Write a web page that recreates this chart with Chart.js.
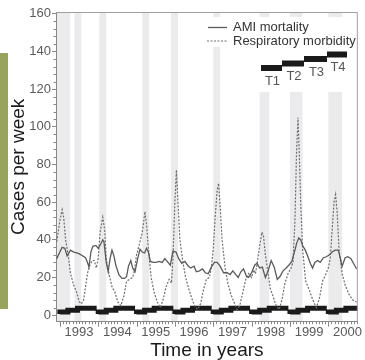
<!DOCTYPE html>
<html>
<head>
<meta charset="utf-8">
<script src="https://cdn.jsdelivr.net/npm/chart.js"></script>
<style>
  html, body { margin: 0; padding: 0; background: #fff; }
  #wrap { position: relative; width: 365px; height: 360px; }
  #tab { position: absolute; left: 0; top: 53px; width: 8px; height: 256px; background: #98a45c; }
</style>
</head>
<body>
<div id="wrap">
  <canvas id="chart" width="365" height="360"></canvas>
  <div id="tab"></div>
</div>
<script>
// AMI mortality, cases per week (time in decimal years)
const amiYears = [1992.92, 1993.00, 1993.06, 1993.13, 1993.19, 1993.28, 1993.36, 1993.44, 1993.51, 1993.59,
  1993.67, 1993.72, 1993.76, 1993.81, 1993.86, 1993.94, 1994.00, 1994.06, 1994.12, 1994.15,
  1994.21, 1994.26, 1994.31, 1994.36, 1994.41, 1994.46, 1994.54, 1994.62, 1994.69, 1994.74,
  1994.79, 1994.85, 1994.90, 1994.96, 1995.03, 1995.09, 1995.15, 1995.21, 1995.26, 1995.31,
  1995.36, 1995.44, 1995.51, 1995.59, 1995.67, 1995.74, 1995.82, 1995.88, 1995.95, 1996.03,
  1996.10, 1996.18, 1996.26, 1996.33, 1996.41, 1996.50, 1996.56, 1996.64, 1996.72, 1996.79,
  1996.87, 1996.95, 1997.03, 1997.10, 1997.18, 1997.27, 1997.36, 1997.44, 1997.51, 1997.59,
  1997.65, 1997.72, 1997.79, 1997.87, 1997.92, 1998.00, 1998.08, 1998.14, 1998.21, 1998.28,
  1998.36, 1998.44, 1998.51, 1998.59, 1998.67, 1998.74, 1998.82, 1998.90, 1998.97, 1999.05,
  1999.13, 1999.18, 1999.23, 1999.28, 1999.33, 1999.40, 1999.46, 1999.53, 1999.59, 1999.65,
  1999.72, 1999.79, 1999.87, 1999.95, 2000.03, 2000.10, 2000.18, 2000.26, 2000.31, 2000.36,
  2000.44, 2000.51, 2000.59, 2000.67, 2000.74];
const amiValues = [30, 33.5, 36, 35.5, 31.5, 34.5, 33.5, 33, 32.5, 31.5,
  30.5, 28, 25.5, 33.5, 36.5, 37, 35.5, 37.5, 40, 39,
  28, 23, 30, 34.5, 31.5, 26.5, 21.5, 19.5, 19.5, 20.5,
  26, 29, 25, 23, 30, 35, 33.5, 33, 35.5, 33.5,
  28.5, 28, 28, 28.5, 28, 30, 28, 26.5, 34, 33.5,
  30, 27.5, 28.5, 26.5, 25, 26, 23, 23.5, 24.5, 22.5,
  22, 25.5, 28, 28, 26, 22.5, 22.5, 21.5, 23.5, 21.5,
  20, 23, 24.5, 20.5, 20, 22.5, 26.5, 27.5, 25, 25.5,
  20, 24, 29, 25.5, 19, 20.5, 23.5, 25, 26.5, 28.5,
  34.5, 38.5, 41, 40, 37, 34.5, 31.5, 27.5, 25, 28,
  29, 28, 30.5, 31, 32, 33.5, 34.5, 34.5, 30.5, 26,
  30.5, 31, 30, 27, 24.5];

// Respiratory morbidity, cases per week
const respYears = [1992.92, 1993.00, 1993.06, 1993.10, 1993.15, 1993.21, 1993.28, 1993.36, 1993.44, 1993.51,
  1993.56, 1993.62, 1993.67, 1993.72, 1993.77, 1993.85, 1993.90, 1993.95, 1994.00, 1994.05,
  1994.12, 1994.17, 1994.21, 1994.28, 1994.36, 1994.44, 1994.51, 1994.59, 1994.67, 1994.74,
  1994.82, 1994.90, 1994.95, 1995.00, 1995.08, 1995.15, 1995.22, 1995.26, 1995.31, 1995.38,
  1995.46, 1995.54, 1995.62, 1995.69, 1995.77, 1995.85, 1995.91, 1995.95, 1996.00, 1996.04,
  1996.08, 1996.13, 1996.21, 1996.28, 1996.36, 1996.44, 1996.51, 1996.59, 1996.67, 1996.74,
  1996.82, 1996.90, 1996.95, 1997.00, 1997.05, 1997.10, 1997.14, 1997.18, 1997.23, 1997.31,
  1997.38, 1997.46, 1997.54, 1997.62, 1997.69, 1997.77, 1997.85, 1997.92, 1998.00, 1998.05,
  1998.10, 1998.15, 1998.21, 1998.27, 1998.31, 1998.36, 1998.41, 1998.49, 1998.56, 1998.64,
  1998.72, 1998.79, 1998.87, 1998.95, 1999.03, 1999.08, 1999.13, 1999.17, 1999.21, 1999.24,
  1999.28, 1999.33, 1999.41, 1999.49, 1999.56, 1999.64, 1999.69, 1999.77, 1999.85, 1999.92,
  2000.00, 2000.05, 2000.10, 2000.15, 2000.19, 2000.23, 2000.28, 2000.36, 2000.44, 2000.54,
  2000.64, 2000.74];
const respValues = [39, 50, 56, 52, 40, 33, 22, 16, 12, 7,
  6, 8, 15, 22, 26, 29, 29, 25, 30, 44,
  52, 45, 30, 22, 15, 12, 7, 5, 10, 18,
  19, 20, 24, 32, 38, 44, 55, 48, 35, 20,
  12, 7, 4, 8, 15, 19, 17, 30, 60, 77,
  60, 40, 28, 20, 14, 9, 5, 3, 6, 13,
  19, 20, 25, 35, 52, 66, 70, 58, 40, 25,
  17, 11, 7, 3, 5, 12, 19, 22, 20, 24,
  22, 28, 37, 44, 42, 32, 25, 14, 10, 5,
  3, 8, 17, 22, 25, 28, 50, 85, 105, 88,
  60, 35, 18, 14, 10, 6, 4, 9, 18, 21,
  25, 30, 45, 60, 64, 55, 35, 22, 16, 11,
  8, 7];

// shaded epidemic periods
const bandStart = [1992.92, 1993.38, 1994.03, 1995.15, 1995.90, 1997.00, 1998.21, 1999.00, 2000.00];
const bandEnd   = [1993.27, 1993.56, 1994.21, 1995.33, 1996.08, 1997.18, 1998.46, 1999.33, 2000.36];

// T1..T4 steps along the bottom, per year
const years = [1993, 1994, 1995, 1996, 1997, 1998, 1999, 2000];
const periodLabels = ['T1', 'T2', 'T3', 'T4'];
const periodLevels = [0.6, 1.6, 2.6, 3.6];
const periodStart = [0, 0.21, 0.46, 0.70];
const periodEnd = 0.96;

const yTicks = [0, 20, 40, 60, 80, 100, 120, 140, 160];

const FONT = '"Liberation Sans", Arial, sans-serif';

const stepData = [];
years.forEach(yr => {
    periodLevels.forEach((lv, i) => stepData.push({ x: yr + periodStart[i], y: lv }));
    stepData.push({ x: yr + periodEnd, y: periodLevels[periodLevels.length - 1] });
    stepData.push({ x: yr + periodEnd + 0.005, y: null });
});

const decor = {
    id: 'decor',
    beforeDraw(chart) {
        const { ctx, chartArea: a, scales: { x } } = chart;
        ctx.save();
        ctx.fillStyle = '#ebebed';
        bandStart.forEach((s, i) => {
            const x0 = Math.max(x.getPixelForValue(s), a.left);
            const x1 = Math.min(x.getPixelForValue(bandEnd[i]), a.right);
            ctx.fillRect(x0, a.top, x1 - x0, a.bottom - a.top);
        });
        // white panel behind the legend
        ctx.fillStyle = '#fff';
        ctx.fillRect(203, 17, a.right - 203, 30);
        ctx.fillRect(255, 47, a.right - 255, 45);
        ctx.restore();
    },
    afterDraw(chart) {
        const { ctx, chartArea: a, scales: { x, y } } = chart;
        ctx.save();
        // frame top and right
        ctx.strokeStyle = '#a0a0a0';
        ctx.lineWidth = 1;
        ctx.beginPath();
        ctx.moveTo(a.left, a.top + 0.5);
        ctx.lineTo(a.right - 0.5, a.top + 0.5);
        ctx.lineTo(a.right - 0.5, a.bottom);
        ctx.stroke();

        // minor / major ticks
        ctx.strokeStyle = '#888';
        ctx.beginPath();
        for (let v = 0; v <= 160; v += 4) {
            if (v % 20 === 0) continue;
            const py = Math.round(y.getPixelForValue(v)) + 0.5;
            ctx.moveTo(a.left - 2.5, py);
            ctx.lineTo(a.left, py);
        }
        for (let m = 0; m < 12 * 9; m++) {
            const v = 1993 + m / 12;
            if (v < x.min || v > x.max) continue;
            const px = Math.round(x.getPixelForValue(v)) + 0.5;
            const len = m % 12 === 0 ? 5 : 2.5;
            ctx.moveTo(px, a.bottom);
            ctx.lineTo(px, a.bottom + len);
        }
        ctx.stroke();

        // legend
        const ds = chart.data.datasets;
        ctx.font = '13px ' + FONT;
        ctx.textBaseline = 'middle';
        ctx.textAlign = 'left';
        ctx.fillStyle = '#333';
        ctx.strokeStyle = ds[0].borderColor;
        ctx.lineWidth = 1.3;
        ctx.beginPath();
        ctx.moveTo(208, 27.5);
        ctx.lineTo(227, 27.5);
        ctx.stroke();
        ctx.fillText(ds[0].label, 233, 27.5);
        ctx.strokeStyle = ds[1].borderColor;
        ctx.lineWidth = 1.2;
        ctx.setLineDash(ds[1].borderDash);
        ctx.beginPath();
        ctx.moveTo(207, 41);
        ctx.lineTo(227, 41);
        ctx.stroke();
        ctx.setLineDash([]);
        ctx.fillText(ds[1].label, 233, 41);

        const tx = [261, 282, 304, 327, 347];
        const ty = [68, 63.5, 59, 54.5];
        ctx.fillStyle = '#1a1a1a';
        periodLabels.forEach((lab, i) => {
            ctx.fillRect(tx[i], ty[i] - 3, tx[i + 1] - tx[i], 6);
        });
        ctx.fillStyle = '#555';
        ctx.textAlign = 'center';
        periodLabels.forEach((lab, i) => {
            ctx.fillText(lab, (tx[i] + tx[i + 1]) / 2 + 1, ty[i] + 13);
        });
        ctx.restore();
    }
};

new Chart(document.getElementById('chart'), {
    type: 'line',
    data: {
        datasets: [{
            label: 'AMI mortality',
            data: amiYears.map((t, i) => ({ x: t, y: amiValues[i] })),
            borderColor: '#5a5a5a',
            borderWidth: 1.3,
            pointRadius: 0,
            tension: 0
        }, {
            label: 'Respiratory morbidity',
            data: respYears.map((t, i) => ({ x: t, y: respValues[i] })),
            borderColor: '#6e6e6e',
            borderWidth: 1.2,
            borderDash: [2, 1.5],
            pointRadius: 0,
            tension: 0
        }, {
            label: 'Periods',
            data: stepData,
            borderColor: '#1a1a1a',
            borderWidth: 5,
            borderCapStyle: 'butt',
            stepped: 'after',
            spanGaps: false,
            pointRadius: 0
        }]
    },
    options: {
        responsive: false,
        animation: false,
        events: [],
        layout: { padding: { top: 12, right: 2, bottom: 0, left: 0 } },
        plugins: { legend: { display: false }, tooltip: { enabled: false } },
        scales: {
            x: {
                type: 'linear',
                min: 1992.9,
                max: 2000.77,
                afterBuildTicks: s => { s.ticks = years.map(yr => ({ value: yr + 0.5 })); },
                afterFit: s => { s.height = 38.3; },
                ticks: {
                    callback: v => String(Math.floor(v)),
                    font: { family: FONT, size: 13 },
                    color: '#5a5a5a',
                    padding: 3,
                    maxRotation: 0,
                    autoSkip: false
                },
                grid: { display: false, drawTicks: false },
                border: { display: true, color: '#888', width: 1 },
                title: {
                    display: true,
                    text: 'Time in years',
                    font: { family: FONT, size: 19, lineHeight: 1 },
                    color: '#1a1a1a',
                    padding: { top: 0, bottom: 0 }
                }
            },
            y: {
                min: -3.5,
                max: 161,
                afterBuildTicks: s => { s.ticks = yTicks.map(v => ({ value: v })); },
                afterFit: s => { s.width = 56; },
                ticks: {
                    font: { family: FONT, size: 13 },
                    color: '#5a5a5a',
                    padding: 1
                },
                grid: { drawOnChartArea: false, tickLength: 4, color: '#888' },
                border: { display: true, color: '#888', width: 1 },
                title: {
                    display: true,
                    text: 'Cases per week',
                    font: { family: FONT, size: 19, lineHeight: 1 },
                    color: '#1a1a1a',
                    padding: { top: 9, bottom: 0 }
                }
            }
        }
    },
    plugins: [decor]
});
</script>
</body>
</html>
